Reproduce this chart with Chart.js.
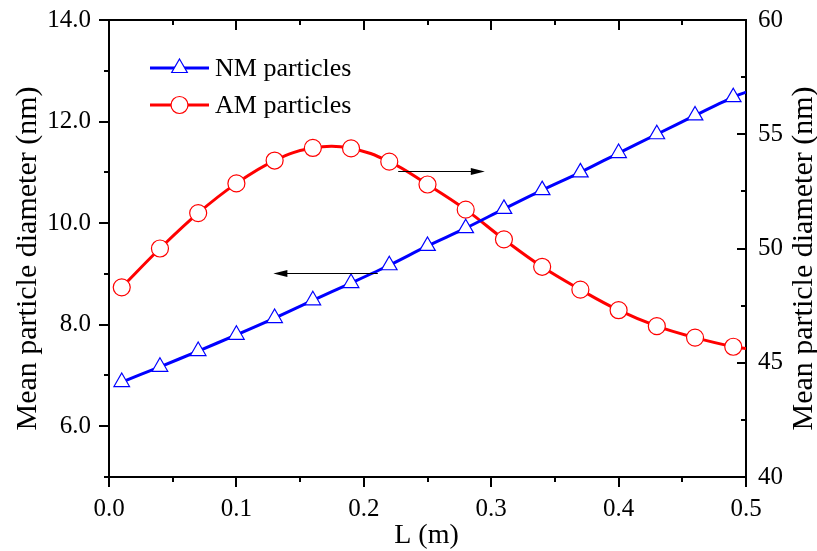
<!doctype html>
<html>
<head>
    <meta charset="UTF-8"/>
    <title>Mean particle diameter</title>
    <style type="text/css">
        html, body { margin: 0; padding: 0; background: #fff; }
    </style>
</head>
<body>
    <canvas id="myChart" width="817" height="551"></canvas>

    <script src="https://cdn.jsdelivr.net/npm/chart.js"></script>

    <script>
        // L (m) positions; markers every 0.03, curve runs on to 0.5
        const lengths = [0.01, 0.04, 0.07, 0.10, 0.13, 0.16, 0.19, 0.22, 0.25, 0.28, 0.31, 0.34, 0.37, 0.40, 0.43, 0.46, 0.49, 0.50];
        const nmDiameter = [6.87, 7.17, 7.48, 7.80, 8.13, 8.48, 8.82, 9.17, 9.55, 9.90, 10.28, 10.65, 11.00, 11.38, 11.75, 12.12, 12.48, 12.58];
        const amDiameter = [48.3, 50.0, 51.55, 52.85, 53.85, 54.4, 54.38, 53.8, 52.8, 51.7, 50.4, 49.2, 48.2, 47.3, 46.6, 46.1, 45.7, 45.62];

        const xTicks = [0.0, 0.1, 0.2, 0.3, 0.4, 0.5];
        const leftTicks = [6, 8, 10, 12, 14];
        const rightTicks = [40, 45, 50, 55, 60];

        const seriesNames = ['NM particles', 'AM particles'];
        const yTitle = 'Mean particle diameter (nm)';
        const xTitle = 'L (m)';

        // arrows pointing to the axis each curve belongs to
        const arrows = [
            { axis: 'y', from: [0.211, 9.02], to: [0.129, 9.02] },
            { axis: 'y2', from: [0.227, 53.4], to: [0.295, 53.4] }
        ];

        const FONT = "'Liberation Serif', 'Times New Roman', serif";
        Chart.defaults.font.family = FONT;
        Chart.defaults.color = '#000';

        const lastIdx = lengths.length - 1;

        const data = {
            datasets: [
                {
                    label: seriesNames[0],
                    data: lengths.map((x, i) => ({ x: x, y: nmDiameter[i] })),
                    yAxisID: 'y',
                    borderColor: '#0000ff',
                    borderWidth: 3,
                    pointStyle: 'triangle',
                    pointRadius: ctx => ctx.dataIndex === lastIdx ? 0 : 9,
                    pointBackgroundColor: '#fff',
                    pointBorderColor: '#0000ff',
                    pointBorderWidth: 1.2,
                    tension: 0.3
                },
                {
                    label: seriesNames[1],
                    data: lengths.map((x, i) => ({ x: x, y: amDiameter[i] })),
                    yAxisID: 'y2',
                    borderColor: '#ff0000',
                    borderWidth: 3,
                    pointStyle: 'circle',
                    pointRadius: ctx => ctx.dataIndex === lastIdx ? 0 : 8.5,
                    pointBackgroundColor: '#fff',
                    pointBorderColor: '#ff0000',
                    pointBorderWidth: 1.2,
                    tension: 0.4
                }
            ]
        };

        function setTicks(values) {
            return scale => { scale.ticks = values.map(v => ({ value: v })); };
        }

        // fixed box sizes so the plot area lands where the original has it
        function fitY(width) {
            return s => { s.width = width; s.paddingTop = 0; s.paddingBottom = 0; };
        }

        function seg(ctx, x1, y1, x2, y2) {
            ctx.moveTo(x1, y1);
            ctx.lineTo(x2, y2);
        }

        // plot frame and tick marks, drawn under the curves
        const frame = {
            id: 'frame',
            beforeDatasetsDraw(chart) {
                const ctx = chart.ctx;
                const a = chart.chartArea;
                const sx = chart.scales.x, sy = chart.scales.y, sy2 = chart.scales.y2;
                ctx.save();
                ctx.strokeStyle = '#000';
                ctx.lineWidth = 2;
                ctx.strokeRect(a.left, a.top, a.right - a.left, a.bottom - a.top);
                ctx.beginPath();
                for (let i = 0; i <= 10; i++) {
                    const px = Math.round(sx.getPixelForValue(i * 0.05));
                    const len = i % 2 === 0 ? 10 : 5;
                    seg(ctx, px, a.bottom, px, a.bottom + len);
                    seg(ctx, px, a.top, px, a.top + len);
                }
                for (let v = 5; v <= 14; v++) {
                    const py = Math.round(sy.getPixelForValue(v));
                    seg(ctx, a.left, py, a.left - (v % 2 === 0 ? 10 : 5), py);
                }
                for (let v = 40; v <= 60; v += 2.5) {
                    const py = Math.round(sy2.getPixelForValue(v));
                    seg(ctx, a.right, py, a.right - (v % 5 === 0 ? 9 : 5), py);
                }
                ctx.stroke();
                ctx.restore();
            }
        };

        // titles, arrows and legend
        const decor = {
            id: 'decor',
            afterDraw(chart) {
                const ctx = chart.ctx;
                const a = chart.chartArea;
                const sx = chart.scales.x;
                ctx.save();
                ctx.fillStyle = '#000';
                ctx.strokeStyle = '#000';

                ctx.textAlign = 'center';
                ctx.textBaseline = 'middle';
                ctx.font = '28px ' + FONT;
                ctx.fillText(xTitle, (a.left + a.right) / 2 - 1, 536);
                ctx.font = '30px ' + FONT;
                const midY = (a.top + a.bottom) / 2 + 10;
                [28, 804].forEach(x => {
                    ctx.save();
                    ctx.translate(x, midY);
                    ctx.rotate(-Math.PI / 2);
                    ctx.fillText(yTitle, 0, 0);
                    ctx.restore();
                });

                arrows.forEach(ar => {
                    const ys = chart.scales[ar.axis];
                    const x1 = sx.getPixelForValue(ar.from[0]);
                    const x2 = sx.getPixelForValue(ar.to[0]);
                    const y = Math.round(ys.getPixelForValue(ar.from[1])) + 0.5;
                    const dir = Math.sign(x2 - x1);
                    ctx.lineWidth = 1;
                    ctx.beginPath();
                    seg(ctx, x1, y, x2 - dir * 10, y);
                    ctx.stroke();
                    ctx.beginPath();
                    ctx.moveTo(x2, y);
                    ctx.lineTo(x2 - dir * 14, y - 3.5);
                    ctx.lineTo(x2 - dir * 14, y + 3.5);
                    ctx.closePath();
                    ctx.fill();
                });

                ctx.textAlign = 'left';
                ctx.font = '26px ' + FONT;
                const rows = [68, 105];
                chart.data.datasets.forEach((ds, i) => {
                    const y = rows[i];
                    ctx.strokeStyle = ds.borderColor;
                    ctx.lineWidth = 3;
                    ctx.beginPath();
                    seg(ctx, 150, y, 209, y);
                    ctx.stroke();
                    ctx.lineWidth = 1.2;
                    ctx.fillStyle = '#fff';
                    ctx.strokeStyle = ds.pointBorderColor;
                    ctx.beginPath();
                    if (ds.pointStyle === 'circle') {
                        ctx.arc(179.5, y, 8.5, 0, Math.PI * 2);
                    } else {
                        ctx.moveTo(179.5, y - 9);
                        ctx.lineTo(179.5 + 7.8, y + 4.5);
                        ctx.lineTo(179.5 - 7.8, y + 4.5);
                        ctx.closePath();
                    }
                    ctx.fill();
                    ctx.stroke();
                    ctx.fillStyle = '#000';
                    ctx.fillText(ds.label, 215, y + 1);
                });
                ctx.restore();
            }
        };

        const config = {
            type: 'line',
            data: data,
            plugins: [frame, decor],
            options: {
                responsive: false,
                animation: false,
                events: [],
                layout: { padding: { top: 20, left: 0, right: 0, bottom: 0 } },
                plugins: {
                    legend: { display: false },
                    tooltip: { enabled: false }
                },
                scales: {
                    x: {
                        type: 'linear',
                        min: 0,
                        max: 0.5,
                        afterBuildTicks: setTicks(xTicks),
                        afterFit: s => { s.height = 74; s.paddingLeft = 0; s.paddingRight = 0; },
                        grid: { display: false, drawTicks: false },
                        border: { display: false },
                        ticks: {
                            padding: 17,
                            maxRotation: 0,
                            autoSkip: false,
                            font: { size: 25 },
                            callback: v => v.toFixed(1)
                        }
                    },
                    y: {
                        position: 'left',
                        min: 5,
                        max: 14,
                        afterBuildTicks: setTicks(leftTicks),
                        afterFit: fitY(109),
                        grid: { display: false, drawTicks: false },
                        border: { display: false },
                        ticks: {
                            padding: 18,
                            font: { size: 25 },
                            callback: v => v.toFixed(1)
                        }
                    },
                    y2: {
                        position: 'right',
                        min: 40,
                        max: 60,
                        afterBuildTicks: setTicks(rightTicks),
                        afterFit: fitY(71),
                        grid: { display: false, drawTicks: false },
                        border: { display: false },
                        ticks: {
                            padding: 12,
                            font: { size: 25 },
                            callback: v => String(v)
                        }
                    }
                }
            }
        };

        const myChart = new Chart(document.getElementById('myChart'), config);
    </script>
</body>
</html>
